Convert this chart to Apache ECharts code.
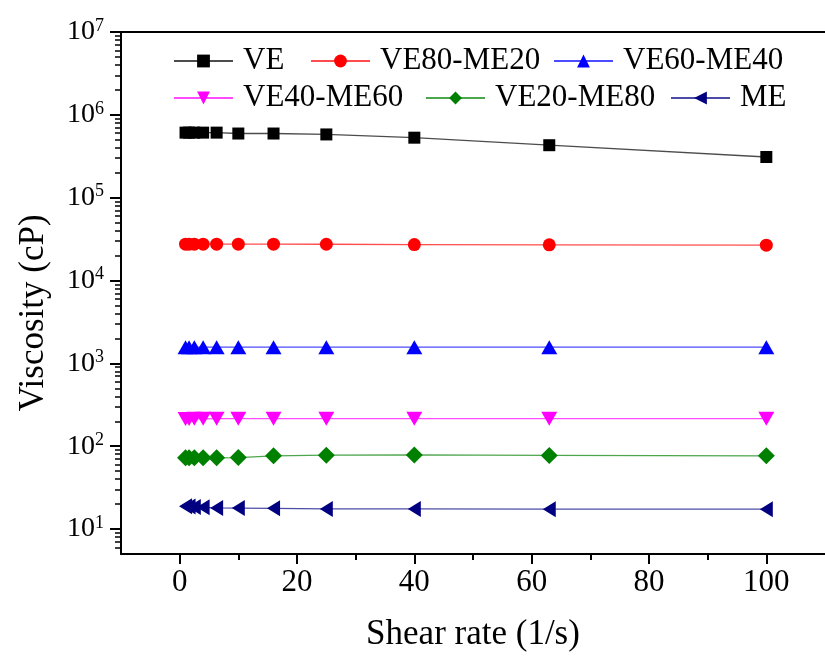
<!DOCTYPE html>
<html>
<head>
<meta charset="utf-8">
<script src="https://cdn.jsdelivr.net/npm/echarts@6/dist/echarts.min.js"></script>
<style>html,body{margin:0;padding:0;background:#fff}#c{width:825px;height:657px}</style>
</head>
<body>
<div id="c"></div>
<script>
var shearRate = [1, 1.6, 2.5, 4, 6.3, 10, 16, 25, 40, 63, 100];
var seriesNames = ['VE', 'VE80-ME20', 'VE60-ME40', 'VE40-ME60', 'VE20-ME80', 'ME'];
var VE = [6.1e5, 6.1e5, 6.1e5, 6.1e5, 6.1e5, 5.95e5, 5.95e5, 5.8e5, 5.3e5, 4.3e5, 3.1e5];
var VE80_ME20 = [2.75e4, 2.75e4, 2.75e4, 2.75e4, 2.75e4, 2.75e4, 2.75e4, 2.74e4, 2.72e4, 2.7e4, 2.67e4];
var VE60_ME40 = [1570, 1570, 1570, 1570, 1570, 1570, 1570, 1570, 1570, 1570, 1570];
var VE40_ME60 = [213, 213, 214, 214, 215, 215, 215, 215, 215, 215, 215];
var VE20_ME80 = [72.5, 72.5, 72.5, 72.5, 72.5, 73, 76.5, 78, 78.5, 77.5, 76.5];
var ME = [18.8, 18.7, 18.5, 18.3, 18.0, 17.9, 17.8, 17.5, 17.5, 17.4, 17.4];
var xMajorTicks = [0, 20, 40, 60, 80, 100];
var xMinorTicks = [10, 30, 50, 70, 90];
var yMajorTicks = [10, 100, 1e3, 1e4, 1e5, 1e6, 1e7];
var yMinorTicks = [6, 7, 8, 9, 20, 30, 40, 50, 60, 70, 80, 90, 200, 300, 400, 500, 600, 700, 800, 900,
  2e3, 3e3, 4e3, 5e3, 6e3, 7e3, 8e3, 9e3, 2e4, 3e4, 4e4, 5e4, 6e4, 7e4, 8e4, 9e4,
  2e5, 3e5, 4e5, 5e5, 6e5, 7e5, 8e5, 9e5, 2e6, 3e6, 4e6, 5e6, 6e6, 7e6, 8e6, 9e6];
var yMin = 5, yMax = 1e7;

var allData = [VE, VE80_ME20, VE60_ME40, VE40_ME60, VE20_ME80, ME];
var colors = ['#000000', '#ff0000', '#0000ff', '#ff00ff', '#008000', '#000080'];
var symbols = ['rect', 'circle', 'triangle', 'triangle', 'diamond', 'triangle'];
var symSizes = [12, 13, [16, 14], [16, 14], 17, [16, 13]];
var symRot = [0, 0, 0, 180, 0, 90];
var legendPos = [[173, 44], [310, 44], [553, 44], [173, 81], [425, 81], [670, 81]];

var FONT = 'Liberation Serif';
var chart = echarts.init(document.getElementById('c'), null, {renderer: 'canvas'});

var series = seriesNames.map(function (n, i) {
  return {
    name: n, type: 'line', xAxisIndex: 0, yAxisIndex: 0,
    data: shearRate.map(function (x, j) { return [x, allData[i][j]]; }),
    symbol: symbols[i], symbolSize: symSizes[i], symbolRotate: symRot[i],
    itemStyle: {color: colors[i]},
    lineStyle: {color: colors[i], width: 1.3, opacity: 0.7},
    emphasis: {disabled: true},
    animation: false
  };
});

var legends = seriesNames.map(function (n, i) {
  return {
    data: [n], left: legendPos[i][0], top: legendPos[i][1], padding: 0,
    itemWidth: 59, itemHeight: 16,
    textStyle: {fontFamily: FONT, fontSize: 31, color: '#000', lineHeight: 34, padding: [0, 0, 0, 5]},
    selectedMode: false
  };
});

var option = {
  backgroundColor: '#fff',
  animation: false,
  grid: {left: 121, right: -5, top: 32, bottom: 102, containLabel: false},
  legend: legends,
  xAxis: [{
    type: 'value', min: -10, max: 110, position: 'bottom',
    name: 'Shear rate (1/s)', nameLocation: 'middle', nameGap: 63,
    nameTextStyle: {fontFamily: FONT, fontSize: 35, color: '#000'},
    axisLine: {show: true, onZero: false, lineStyle: {color: '#000', width: 2}},
    axisTick: {show: true, customValues: xMajorTicks, length: 10, lineStyle: {color: '#000', width: 2}},
    axisLabel: {customValues: xMajorTicks, fontFamily: FONT, fontSize: 31, color: '#000', margin: 13},
    splitLine: {show: false}
  }, {
    type: 'value', min: -10, max: 110, position: 'bottom', gridIndex: 0,
    axisLine: {show: false, onZero: false},
    axisTick: {show: true, customValues: xMinorTicks, length: 6, lineStyle: {color: '#000', width: 2}},
    axisLabel: {show: false},
    splitLine: {show: false}
  }, {
    type: 'value', min: -10, max: 110, position: 'top', gridIndex: 0,
    axisLine: {show: true, onZero: false, lineStyle: {color: '#000', width: 2}},
    axisTick: {show: false}, axisLabel: {show: false}, splitLine: {show: false}
  }],
  yAxis: [{
    type: 'log', logBase: 10, min: yMin, max: yMax, position: 'left',
    name: 'Viscosity (cP)', nameLocation: 'middle', nameGap: 70, nameRotate: 90,
    nameTextStyle: {fontFamily: FONT, fontSize: 35, color: '#000', padding: [0, 40, 0, 0]},
    axisLine: {show: true, onZero: false, lineStyle: {color: '#000', width: 2}},
    axisTick: {show: true, inside: false, customValues: yMajorTicks, length: 11, lineStyle: {color: '#000', width: 2}},
    axisLabel: {
      customValues: yMajorTicks, margin: 17,
      formatter: function (v) { return '{b|10}{s|' + Math.round(Math.log10(v)) + '}'; },
      rich: {
        b: {fontFamily: FONT, fontSize: 28, color: '#000', lineHeight: 30},
        s: {fontFamily: FONT, fontSize: 18, color: '#000', verticalAlign: 'top', lineHeight: 30, padding: [0, 0, 12, 0]}
      }
    },
    splitLine: {show: false}
  }, {
    type: 'log', logBase: 10, min: yMin, max: yMax, position: 'left', gridIndex: 0,
    axisLine: {show: false, onZero: false},
    axisTick: {show: true, inside: false, customValues: yMinorTicks, length: 6, lineStyle: {color: '#000', width: 1.5}},
    axisLabel: {show: false},
    splitLine: {show: false}
  }],
  series: series
};
chart.setOption(option);
</script>
</body>
</html>
